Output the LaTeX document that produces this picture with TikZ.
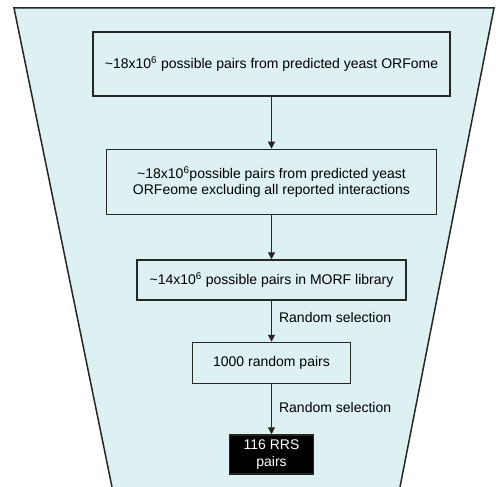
\documentclass[tikz,border=0pt]{standalone}
\usepackage{fontspec}
\setmainfont{Liberation Sans}
\usetikzlibrary{positioning, arrows.meta}
\definecolor{embudo}{RGB}{221,240,242}

\begin{document}
\begin{tikzpicture}[
		x=1pt, y=-1pt,
		font=\fontsize{14}{16.5}\selectfont,
		% Estilos de cajas
		caja/.style={draw=black!85, line width=1.5pt, rectangle, align=center, inner sep=0pt},
		caja_final/.style={caja, fill=black, text=white},
		% Estilo de flechas y etiquetas
		flecha/.style={-{Triangle[length=7pt, width=7pt]}, line width=1.2pt, draw=black!85},
		etiqueta/.style={inner sep=0pt, right=7pt}
		]
		
		\useasboundingbox (0,0) rectangle (496,487);
		
		% --- EMBUDO DE FONDO ---
		\fill[embudo] (14,8) -- (494,8) -- (400,487) -- (112,487) -- cycle;
		\draw[line width=1.5pt, black!85] (112,487) -- (14,8) -- (494,8) -- (400,487);
		
		% --- CAJAS ---
		\node[caja, minimum width=357pt, minimum height=64pt] (orfeoma) at (271.5,64) {\textasciitilde18x10\textsuperscript{6} possible pairs from predicted yeast ORFome};
		\node[caja, minimum width=330pt, minimum height=65pt, below=52pt of orfeoma] (sininter) {\textasciitilde18x10\textsuperscript{6}possible pairs from predicted yeast\\ORFeome excluding all reported interactions};
		\node[caja, minimum width=269pt, minimum height=40pt, below=44pt of sininter] (morf) {\textasciitilde14x10\textsuperscript{6} possible pairs in MORF library};
		\node[caja, minimum width=158pt, minimum height=41pt, below=41pt of morf] (azar) {1000 random pairs};
		\node[caja_final, minimum width=84pt, minimum height=39pt, below=50pt of azar] (rrs) {116 RRS\\pairs};
		
		% --- CONEXIONES ---
		\draw[flecha] (orfeoma) -- (sininter);
		\draw[flecha] (sininter) -- (morf);
		\draw[flecha] (morf) -- node[etiqueta, pos=0.41] {Random selection} (azar);
		\draw[flecha] (azar) -- node[etiqueta, pos=0.46] {Random selection} (rrs);
		
	\end{tikzpicture}
\end{document}
